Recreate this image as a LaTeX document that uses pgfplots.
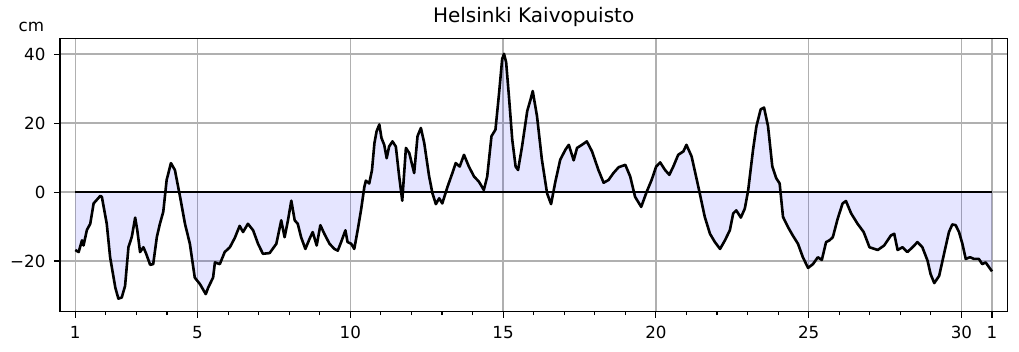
\documentclass[border=0pt]{standalone}
\usepackage{pgfplots}
\pgfplotsset{compat=1.18}
\usepackage{pgfplotstable}
\usepackage{fontspec}
\setmainfont{DejaVu Sans}
\definecolor{gridc}{HTML}{B0B0B0}
\pgfplotstableread{
x y
1.00 -16.8
1.11 -17.4
1.22 -14.0
1.27 -15.5
1.38 -11.0
1.49 -9.2
1.60 -3.3
1.82 -1.1
1.87 -1.4
2.03 -9.2
2.14 -18.9
2.31 -27.7
2.41 -30.9
2.52 -30.6
2.63 -27.2
2.74 -16.0
2.85 -13.0
2.96 -7.4
3.03 -11.1
3.12 -17.4
3.23 -16.0
3.32 -17.9
3.45 -21.1
3.55 -20.9
3.67 -13.0
3.77 -9.2
3.88 -5.7
3.99 3.5
4.13 8.4
4.26 6.4
4.43 -1.4
4.59 -9.2
4.75 -15.0
4.91 -24.8
5.08 -26.7
5.27 -29.6
5.35 -27.7
5.51 -24.8
5.57 -20.4
5.73 -20.9
5.89 -17.4
6.06 -16.0
6.22 -13.3
6.38 -9.8
6.49 -11.6
6.65 -9.2
6.82 -11.1
6.98 -15.0
7.14 -17.9
7.36 -17.7
7.58 -15.0
7.74 -8.2
7.85 -13.1
7.96 -8.2
8.07 -2.5
8.18 -8.2
8.28 -9.2
8.39 -13.1
8.53 -16.5
8.67 -13.5
8.77 -11.6
8.90 -15.5
9.02 -9.6
9.15 -12.1
9.32 -15.0
9.48 -16.5
9.59 -17.0
9.70 -14.5
9.84 -11.1
9.91 -14.5
10.03 -15.0
10.13 -16.5
10.24 -11.1
10.35 -5.3
10.46 1.5
10.51 3.3
10.62 2.5
10.71 6.4
10.79 14.2
10.86 17.6
10.95 19.6
11.02 15.7
11.11 13.7
11.19 9.8
11.27 13.2
11.38 14.7
11.49 13.2
11.60 4.5
11.70 -2.5
11.82 12.8
11.93 11.3
12.09 5.5
12.20 16.2
12.31 18.6
12.42 14.2
12.58 4.5
12.69 -0.4
12.80 -3.5
12.91 -1.8
13.01 -3.3
13.18 1.5
13.34 5.5
13.45 8.4
13.58 7.4
13.72 10.8
13.88 7.4
14.05 4.5
14.21 3.0
14.37 0.6
14.48 4.5
14.62 16.2
14.75 18.1
14.86 27.9
14.97 38.6
15.03 40.1
15.10 37.6
15.19 27.9
15.30 15.2
15.41 7.4
15.49 6.4
15.62 13.2
15.79 23.5
15.90 26.9
15.97 29.3
16.11 22.0
16.27 9.4
16.44 -0.4
16.57 -3.5
16.71 3.0
16.87 9.4
17.04 12.3
17.15 13.7
17.31 9.2
17.42 12.8
17.58 13.7
17.74 14.7
17.91 11.8
18.12 6.4
18.29 2.7
18.45 3.5
18.61 5.5
18.78 7.2
19.00 7.9
19.16 4.5
19.32 -1.4
19.52 -4.3
19.70 0.1
19.86 3.5
20.01 7.4
20.14 8.6
20.30 6.4
20.44 5.0
20.57 7.4
20.73 10.8
20.90 11.8
21.00 13.7
21.17 10.3
21.39 1.5
21.60 -7.2
21.77 -12.1
21.93 -14.5
22.10 -16.5
22.26 -14.0
22.42 -11.1
22.53 -6.2
22.63 -5.3
22.78 -7.4
22.91 -4.8
23.02 0.5
23.18 12.3
23.29 19.1
23.43 24.0
23.54 24.5
23.67 19.1
23.81 7.4
23.94 4.0
24.05 2.5
24.16 -7.2
24.32 -10.1
24.48 -12.6
24.65 -15.0
24.81 -18.9
24.98 -22.0
25.14 -20.9
25.30 -18.9
25.43 -19.7
25.57 -14.5
25.68 -14.0
25.79 -13.1
25.95 -7.7
26.11 -3.3
26.22 -2.6
26.39 -6.2
26.60 -9.2
26.80 -11.6
26.99 -16.0
27.26 -16.8
27.47 -15.5
27.69 -12.6
27.80 -12.1
27.91 -16.8
28.07 -16.0
28.23 -17.4
28.40 -16.0
28.56 -14.5
28.72 -16.0
28.89 -19.9
28.99 -23.8
29.11 -26.4
29.27 -24.3
29.43 -17.9
29.59 -11.6
29.70 -9.4
29.81 -9.6
29.92 -11.6
30.03 -15.0
30.14 -19.4
30.28 -18.9
30.41 -19.4
30.57 -19.4
30.68 -20.9
30.79 -20.4
31.00 -23.0
}\sealevel
\begin{document}
\begin{tikzpicture}
\useasboundingbox (-60bp,-40.3bp) rectangle (959bp,311.7bp);
\begin{axis}[
  at={(0,0)}, anchor=south west,
  scale only axis, width=947.3bp, height=273.4bp,
  xmin=0.5, xmax=31.5, ymin=-34.7, ymax=44.6,
  axis line style={black, line width=1.33bp},
  tick align=outside, tick pos=left,
  major tick length=6bp, minor tick length=3.3bp,
  every tick/.style={black, line width=1.1bp},
  xtick={1,5,10,15,20,25,30,31},
  xticklabels={1,5,10,15,20,25,30,1},
  minor xtick={2,3,4,6,7,8,9,11,12,13,14,16,17,18,19,21,22,23,24,26,27,28,29},
  ytick={-20,0,20,40},
  yticklabels={−20,0,20,40},
  grid=major,
  major grid style={gridc, line width=1.33bp},
  tick label style={font=\fontsize{16.7bp}{20bp}\selectfont},
  xticklabel style={yshift=-5bp},
  yticklabel style={xshift=-5bp},
  title={Helsinki Kaivopuisto},
  title style={font=\fontsize{20bp}{24bp}\selectfont, yshift=2bp},
  clip mode=individual,
]
\addplot[draw=none, fill=blue, fill opacity=0.1] table[x=x,y=y] {\sealevel} \closedcycle;
\addplot[black, line width=1.3bp] coordinates {(1,0) (31,0)};
\addplot[black, line width=2.6bp, line join=round] table[x=x,y=y] {\sealevel};
\end{axis}
\node[anchor=base east, font=\fontsize{16.7bp}{20bp}\selectfont] at (-12.3bp, 280bp) {cm};
\end{tikzpicture}
\end{document}
